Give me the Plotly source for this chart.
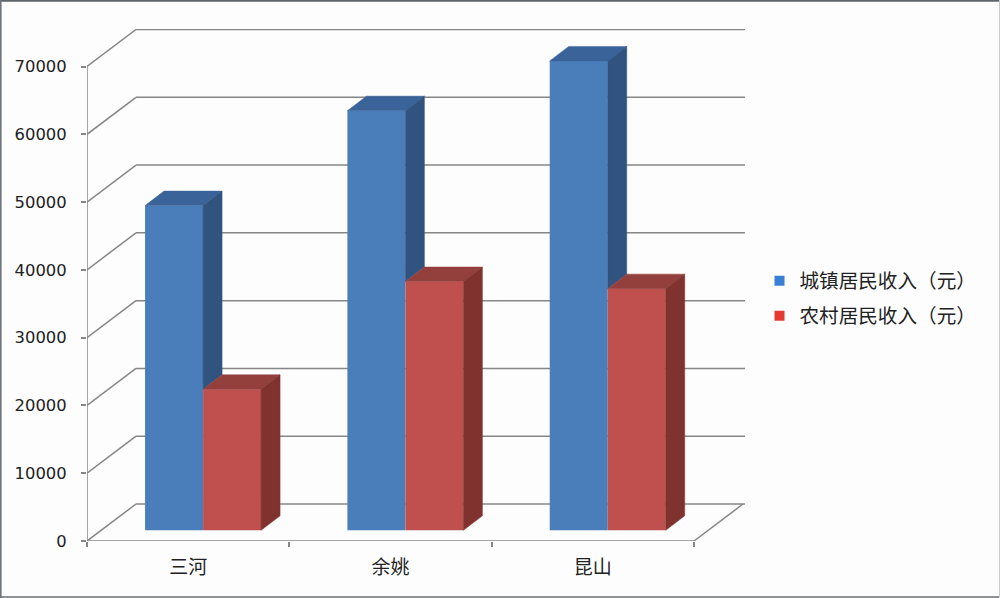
import plotly.graph_objects as go

categories = ["三河", "余姚", "昆山"]
urban_income = [47900, 61900, 69250]
rural_income = [20800, 36700, 35650]
tick_values = [0, 10000, 20000, 30000, 40000, 50000, 60000, 70000]
tick_labels = ["0", "10000", "20000", "30000", "40000", "50000", "60000", "70000"]
series_names = ["城镇居民收入（元）", "农村居民收入（元）"]

W, H = 1000, 598
L, R, T, B = 87, 745, 29, 541
PX_PER_CAT = (694 - 87) / 3
PX_PER_VAL = (541 - 66.5) / 70000
XMAX = (R - L) / PX_PER_CAT
YMAX = (B - T) / PX_PER_VAL


def dx(px):
    return px / PX_PER_CAT


def dy(px):
    return px / PX_PER_VAL


WALL_X, WALL_Y = dx(49), dy(37)
DEPTH_X, DEPTH_Y = dx(19), dy(14.5)
BAR_W = dx(58)
LIFT = dy(10.7)
SHIFT = dx(14.9)
centers = [i + 0.5 + SHIFT for i in range(len(categories))]

GRID = "#868686"
BLUE = dict(front="#4a7ebb", top="#3a6399", side="#30537f", key="#3a7fd6")
RED = dict(front="#c0504d", top="#933f3c", side="#7f322e", key="#e53a33")

fig = go.Figure()


def poly(xs, ys, color):
    fig.add_trace(go.Scatter(x=xs, y=ys, mode="lines", fill="toself", fillcolor=color,
                             line=dict(width=0.5, color=color), showlegend=False, hoverinfo="skip"))


def line(xs, ys):
    fig.add_trace(go.Scatter(x=xs, y=ys, mode="lines", line=dict(color=GRID, width=1.5),
                             showlegend=False, hoverinfo="skip"))


# front faces
fig.add_trace(go.Bar(x=centers, y=urban_income, base=LIFT, width=BAR_W, offset=-BAR_W,
                     marker=dict(color=BLUE["front"], line=dict(width=0)), showlegend=False, hoverinfo="skip"))
fig.add_trace(go.Bar(x=centers, y=rural_income, base=LIFT, width=BAR_W, offset=0,
                     marker=dict(color=RED["front"], line=dict(width=0)), showlegend=False, hoverinfo="skip"))

for c, u, r in zip(centers, urban_income, rural_income):
    ut, rt = u + LIFT, r + LIFT
    # blue top and side (side stops where the red bar's top begins)
    poly([c - BAR_W, c, c + DEPTH_X, c - BAR_W + DEPTH_X, c - BAR_W],
         [ut, ut, ut + DEPTH_Y, ut + DEPTH_Y, ut], BLUE["top"])
    poly([c, c + DEPTH_X, c + DEPTH_X, c, c],
         [ut, ut + DEPTH_Y, rt + DEPTH_Y, rt, ut], BLUE["side"])
    # red top and side
    poly([c, c + BAR_W, c + BAR_W + DEPTH_X, c + DEPTH_X, c],
         [rt, rt, rt + DEPTH_Y, rt + DEPTH_Y, rt], RED["top"])
    poly([c + BAR_W, c + BAR_W + DEPTH_X, c + BAR_W + DEPTH_X, c + BAR_W, c + BAR_W],
         [rt, rt + DEPTH_Y, LIFT + DEPTH_Y, LIFT, rt], RED["side"])

# axis lines in front of everything (only the floor's front edge and wall edge)
line([0, 0], [0, tick_values[-1]])
line([0, dx(607)], [0, 0])
line([dx(607), dx(607) + WALL_X], [0, WALL_Y])

# legend keys
for i, (name, col) in enumerate(zip(series_names, (BLUE, RED))):
    fig.add_trace(go.Scatter(x=[None], y=[None], mode="markers", name=name, legendgroup=f"g{i}",
                             marker=dict(symbol="square", size=10, color=col["key"])))

# walls drawn below the bars
shapes = []
for v in tick_values:
    shapes.append(dict(type="line", xref="x", yref="y", layer="below", x0=0, y0=v,
                       x1=WALL_X, y1=v + WALL_Y, line=dict(color=GRID, width=1.5)))
    shapes.append(dict(type="line", xref="x", yref="y", layer="below", x0=WALL_X, y0=v + WALL_Y,
                       x1=XMAX, y1=v + WALL_Y, line=dict(color=GRID, width=1.5)))


# thin picture frame
def px_x(p):
    return (p - L) / (R - L)


def px_y(p):
    return (B - p) / (B - T)


for (x0, y0, x1, y1, col, w) in [
    (0, 0.8, W, 0.8, "#5f656c", 2), (0.8, 0, 0.8, H, "#6f757c", 1.6),
    (0, 597, W, 597, "#6a6f75", 1.6), (999.5, 0, 999.5, H, "#c9cbcf", 1),
]:
    shapes.append(dict(type="line", xref="paper", yref="paper", x0=px_x(x0), y0=px_y(y0),
                       x1=px_x(x1), y1=px_y(y1), line=dict(color=col, width=w)))

fig.update_layout(
    width=W, height=H, margin=dict(l=L, r=W - R, t=T, b=H - B, pad=0),
    paper_bgcolor="#fdfdfe", plot_bgcolor="rgba(0,0,0,0)", barmode="overlay",
    shapes=shapes, showlegend=True,
    font=dict(family="Noto Sans CJK SC, DejaVu Sans", color="#222222"),
    legend=dict(x=(771.5 - L) / (R - L), y=px_y(261.5), xanchor="left", yanchor="top",
                font=dict(size=19.6, family="Noto Sans CJK SC", color="#222222"),
                bgcolor="rgba(0,0,0,0)", traceorder="grouped", tracegroupgap=6.5,
                indentation=-12, itemwidth=30),
    xaxis=dict(range=[0, XMAX], showgrid=False, zeroline=False, showline=False,
               tickmode="array", tickvals=[i + 0.5 for i in range(len(categories))],
               ticktext=categories, ticks="", ticklabelstandoff=13,
               tickfont=dict(size=19, family="Noto Sans CJK SC", color="#222222"),
               minor=dict(tickmode="array", tickvals=[0, 1, 2, 3], ticks="outside",
                          ticklen=5, tickwidth=1.5, tickcolor=GRID, showgrid=False)),
    yaxis=dict(range=[0, YMAX], showgrid=False, zeroline=False, showline=False,
               tickmode="array", tickvals=tick_values, ticktext=tick_labels, ticks="outside",
               ticklen=5, tickwidth=1.5, tickcolor=GRID, ticklabelstandoff=11,
               tickfont=dict(size=16.4, family="DejaVu Sans", color="#222222")),
)

fig.write_html("out.html", config=dict(displayModeBar=False),
               post_script="document.body.style.margin='0';document.body.style.overflow='hidden';")
